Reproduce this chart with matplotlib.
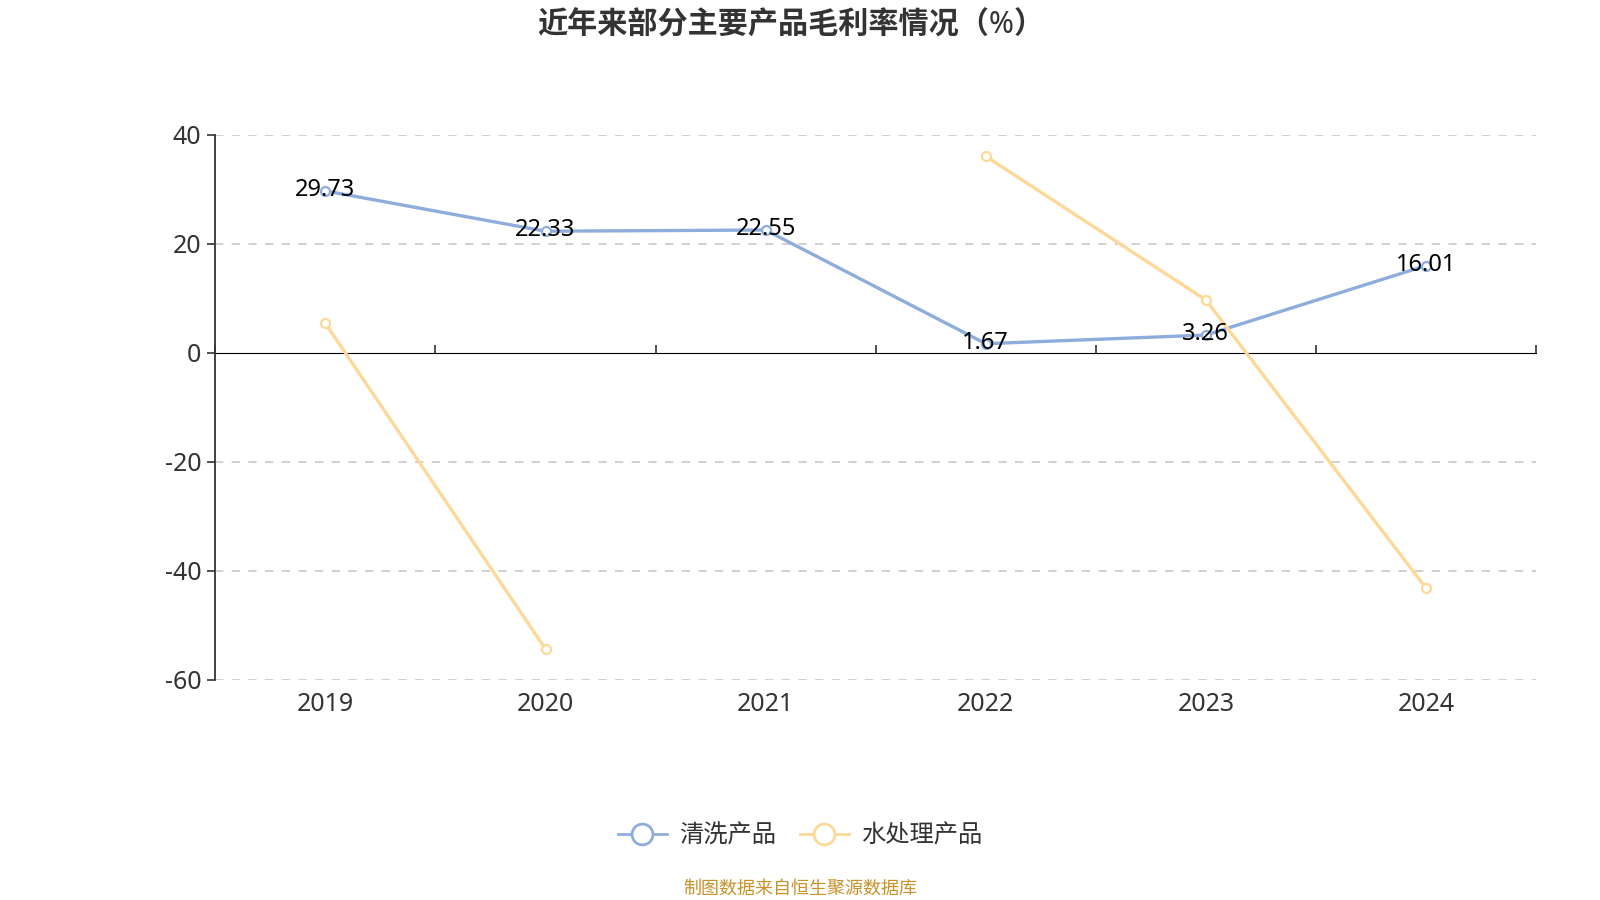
import numpy as np
import matplotlib.pyplot as plt
from matplotlib.lines import Line2D

plt.rcParams['font.family'] = ['Noto Sans', 'Noto Sans CJK SC', 'DejaVu Sans']

years = ['2019', '2020', '2021', '2022', '2023', '2024']
cleaning = [29.73, 22.33, 22.55, 1.67, 3.26, 16.01]
water = [5.4, -54.4, np.nan, 36.1, 9.7, -43.2]

blue = '#8eaddb'
orange = '#fdd898'

fig = plt.figure(figsize=(16, 9), dpi=100)
ax = fig.add_axes([0.1346, 0.245, 0.8254, 0.605])

x = np.arange(len(years))
ax.plot(x, cleaning, color=blue, lw=2.4, marker='o', ms=6.5, mfc='white',
        mec=blue, mew=1.6, zorder=3)
ax.plot(x, water, color=orange, lw=2.4, marker='o', ms=6.5, mfc='white',
        mec=orange, mew=1.6, zorder=3)

for xi, v in zip(x, cleaning):
    ax.text(xi, v + 0.2, f'{v:.2f}', ha='center', va='center', fontsize=17,
            color='black', zorder=4)

ax.set_xlim(-0.5, 5.5)
ax.set_ylim(-60, 40)
ax.set_yticks([-60, -40, -20, 0, 20, 40])
ax.set_yticklabels(['-60', '-40', '-20', '0', '20', '40'])
ax.set_xticks(x)
ax.set_xticklabels(years)
ax.tick_params(axis='x', length=0, pad=9, labelsize=18, labelcolor='#333333')
ax.tick_params(axis='y', length=6, width=1.2, color='#333333', pad=4,
               labelsize=18, labelcolor='#333333')

for gy in [-60, -40, -20, 20, 40]:
    ax.axhline(gy, color='#c8c8c8', lw=1.2, ls=(0, (5, 5)), zorder=1)

for s in ['top', 'right', 'bottom']:
    ax.spines[s].set_visible(False)
ax.spines['left'].set_color('#333333')
ax.spines['left'].set_linewidth(1.3)

# x axis line at zero with boundary ticks
sec = ax.secondary_xaxis(0.6)
sec.set_xticks(np.arange(-0.5, 6.0, 1.0))
sec.set_xticklabels([])
sec.tick_params(length=6, width=1.2, color='#333333', direction='out')
sec.spines['bottom'].set_color('#333333')
sec.spines['bottom'].set_linewidth(1.3)

fig.text(0.494, 0.972, '近年来部分主要产品毛利率情况（%）', ha='center', va='center',
         fontsize=21.7, fontweight='bold', color='#333333')

handles = [
    Line2D([0], [0], color=blue, lw=2, marker='o', ms=15, mfc='white', mew=2),
    Line2D([0], [0], color=orange, lw=2, marker='o', ms=15, mfc='white', mew=2),
]
fig.legend(handles, ['清洗产品', '水处理产品'], loc='center', bbox_to_anchor=(0.5, 0.07),
           ncol=2, frameon=False, fontsize=17.5, handlelength=2.0, columnspacing=1.0,
           handletextpad=0.5, labelcolor='#333333')

fig.text(0.5, 0.013, '制图数据来自恒生聚源数据库', ha='center', va='center',
         fontsize=13, color='#c8922a')

fig.savefig('out.png')
